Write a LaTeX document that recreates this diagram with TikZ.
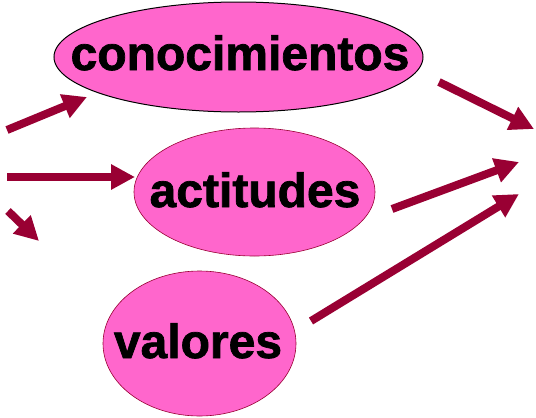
\documentclass[tikz,border=0pt]{standalone}
\usepackage{fontspec}
\setmainfont{Liberation Sans}[BoldFeatures={FakeBold=1.5}]
\usetikzlibrary{arrows.meta,shapes.geometric}
\definecolor{rosa}{HTML}{FF66CC}
\definecolor{granate}{HTML}{990033}
\tikzset{
  bubble/.style={ellipse, fill=rosa, draw=granate, line width=0.6pt, inner sep=0pt},
  word/.style={anchor=base, inner sep=0pt, font=\fontsize{48}{48}\selectfont\bfseries},
  flecha/.style={draw=granate, line width=8pt, -{Triangle[length=24pt,width=24pt]}}
}

\begin{document}
\begin{tikzpicture}[x=1pt,y=-1pt]
			%%%%% START %%%%%
			\useasboundingbox (0, 0) rectangle (536, 418);
			
			\node[bubble, draw=black, line width=1pt, minimum width=369pt, minimum height=110pt] (con) at (238.5, 57) {};
			\node[bubble, minimum width=241pt, minimum height=128pt] (act) at (254.5, 192) {};
			\node[bubble, minimum width=193pt, minimum height=145pt] (val) at (199.5, 343.5) {};
			
			\node[word] (conT) at (240, 70) {conocimientos};
			\node[word] (actT) at (255, 207) {actitudes};
			\node[word] (valT) at (198, 358) {valores};
			
			% entradas
			\coordinate (in1) at (7, 130);
			\coordinate (in1t) at (87, 97);
			\coordinate (in2) at (7, 177);
			\coordinate (in2t) at (135, 177);
			\coordinate (in3) at (8, 211);
			\coordinate (in3t) at (39, 241);
			\draw[flecha] (in1) -- (in1t);
			\draw[flecha] (in2) -- (in2t);
			\draw[flecha] (in3) -- (in3t);
			
			% salidas
			\coordinate (out1) at (439, 82);
			\coordinate (out1t) at (534, 129);
			\coordinate (out2) at (392, 209);
			\coordinate (out2t) at (519, 162);
			\coordinate (out3) at (311, 321);
			\coordinate (out3t) at (519, 194);
			\draw[flecha] (out1) -- (out1t);
			\draw[flecha] (out2) -- (out2t);
			\draw[flecha] (out3) -- (out3t);
			%%%%% END %%%%%
\end{tikzpicture}
\end{document}
